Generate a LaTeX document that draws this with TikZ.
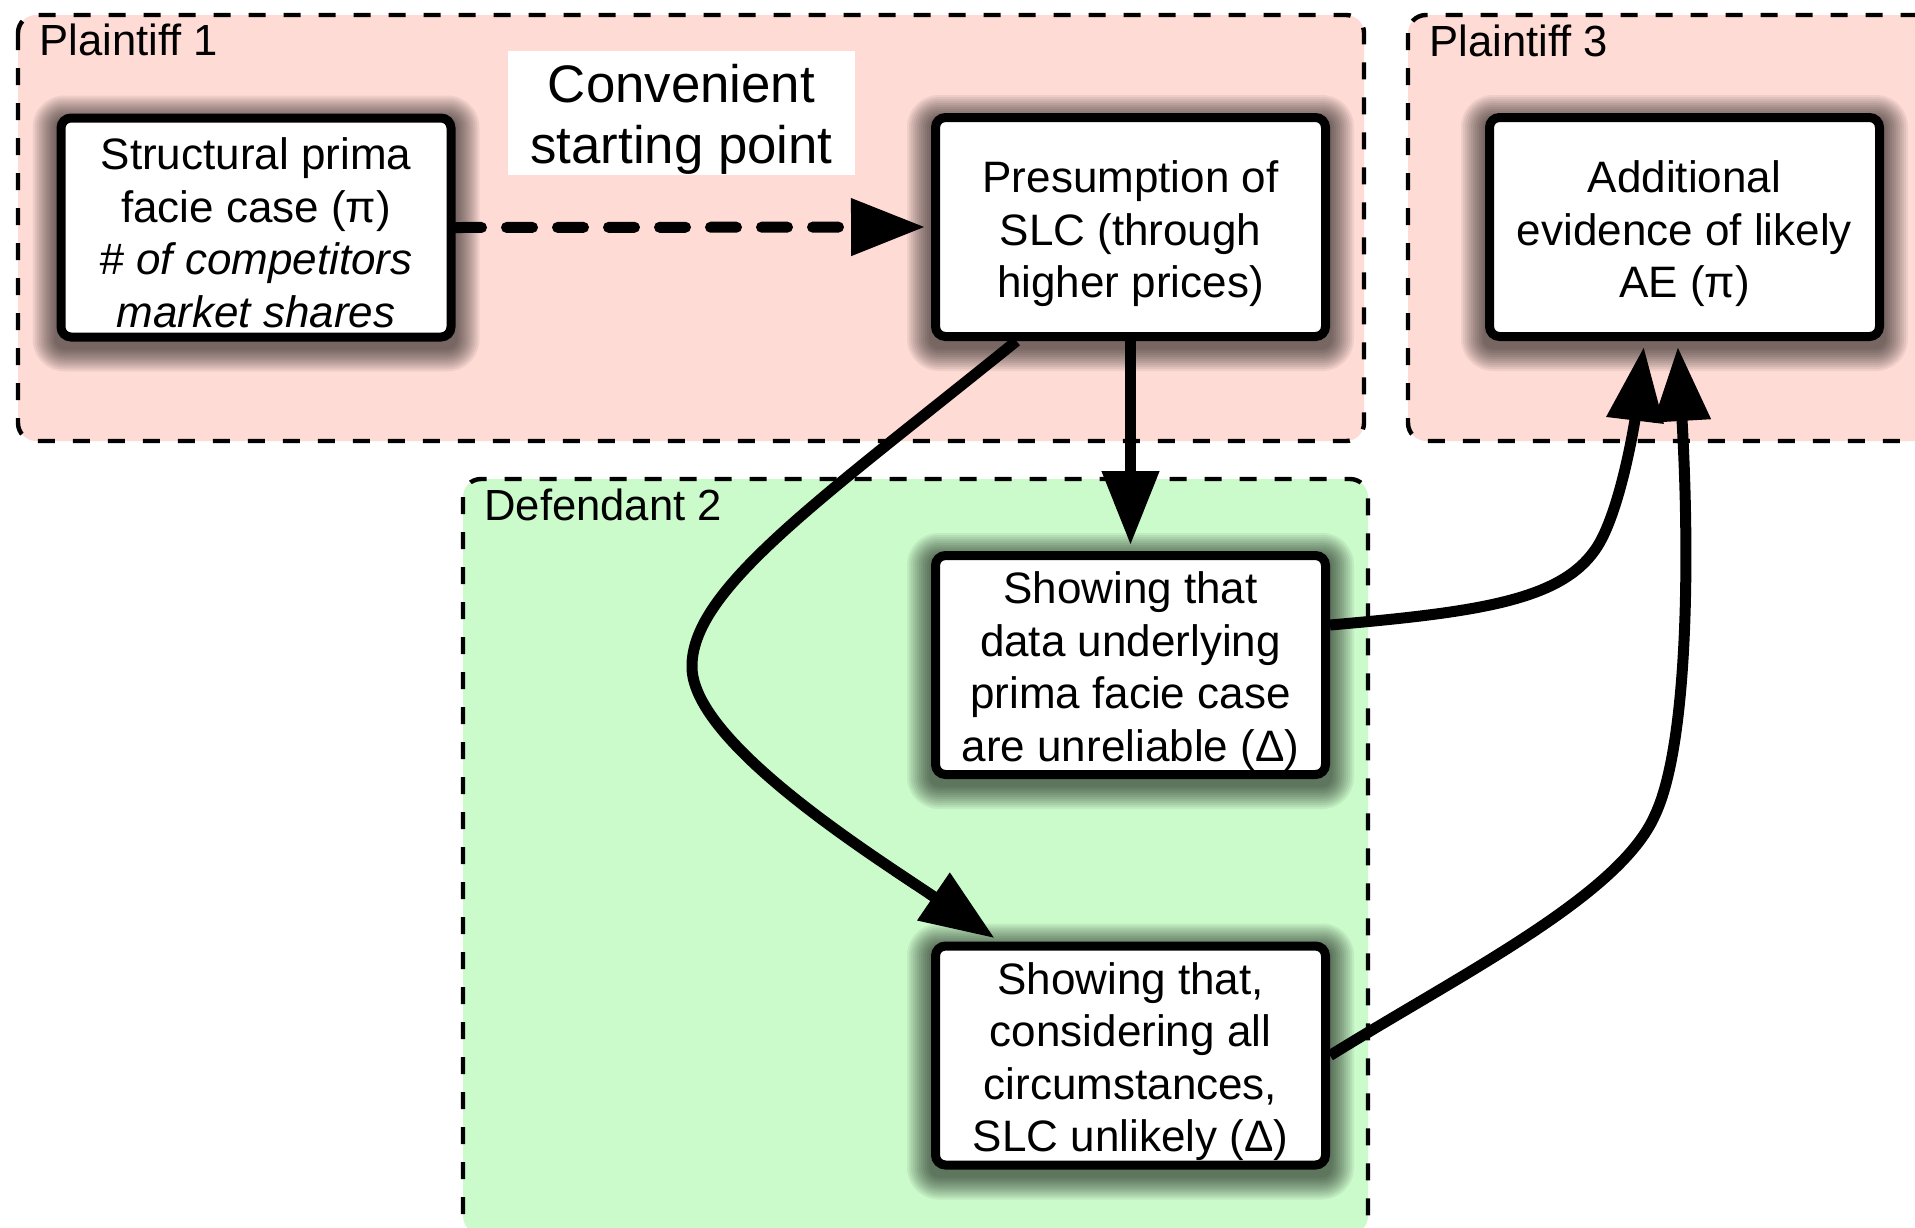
\documentclass[tikz,border=0pt]{standalone}
\usepackage{fontspec}
\setmainfont{Liberation Sans}
\usetikzlibrary{arrows.meta,calc}

\definecolor{plainpink}{RGB}{255,219,213}
\definecolor{defgreen}{RGB}{203,250,203}

\pgfdeclarelayer{back}
\pgfdeclarelayer{shade}
\pgfsetlayers{back,shade,main}

% raises the first line so that the text block sits a little lower in its box
\newcommand\firstline[1]{\rule{0pt}{#1}}

% soft drop shadow under a named card, built from stacked translucent outlines
\newcommand\cardshadow[1]{%
  \begin{pgfonlayer}{shade}
    \foreach \g [evaluate=\g as \rr using 4+\g] in {1,...,12}{
      \fill[black, fill opacity=0.058, rounded corners=\rr pt]
        ($(#1.south west)+(-2*\g,6+2*\g)$) rectangle ($(#1.north east)+(2*\g,6-2*\g)$);
    }
  \end{pgfonlayer}}

\tikzset{
  region/.style={draw=black, line width=2.2pt, dash pattern=on 8.5pt off 9pt, rounded corners=9pt},
  grouplabel/.style={anchor=base west, inner sep=0pt, font=\fontsize{21.8}{25}\selectfont},
  card/.style={draw=black, fill=white, line width=4.5pt, rounded corners=5pt,
    minimum width=195pt, minimum height=109.5pt, align=center, inner sep=0pt,
    font=\fontsize{22}{26.25}\selectfont},
  flow/.style={line width=5.5pt, -{Triangle[length=37pt,width=27.5pt]}, shorten >=3pt},
  tag/.style={fill=white, minimum width=173.5pt, minimum height=62pt, align=center,
    inner sep=0pt, font=\fontsize{26.4}{30.5}\selectfont},
}

\begin{document}
\begin{tikzpicture}[x=0.5pt,y=-0.5pt]
\useasboundingbox (0,0) rectangle (1915,1227);

% party regions
\begin{pgfonlayer}{back}
\draw[region, fill=plainpink] (18,15) rectangle (1364,441);
\draw[region, fill=plainpink] (1408,15) rectangle (1940,441);
\draw[region, fill=defgreen] (463,479) rectangle (1368,1234);
\end{pgfonlayer}

\node[grouplabel] (lp1) at (39,55) {Plaintiff 1};
\node[grouplabel] (lp3) at (1429,56) {Plaintiff 3};
\node[grouplabel] (ld2) at (484,520) {Defendant 2};

% steps
\node[card] (struct) at (256,227.5) {\firstline{21pt}Structural prima\\facie case (π)\\\textit{\# of competitors}\\\textit{market shares}};
\node[card] (pres) at (1130.5,227) {\firstline{23pt}Presumption of\\SLC (through\\higher prices)};
\node[card] (ae) at (1684.5,227) {\firstline{23pt}Additional\\evidence of likely\\AE (π)};
\node[card] (data) at (1130.5,665) {\firstline{22pt}Showing that\\data underlying\\prima facie case\\are unreliable (Δ)};
\node[card] (slc) at (1130.5,1055.5) {\firstline{22pt}Showing that,\\considering all\\circumstances,\\SLC unlikely (Δ)};

\cardshadow{struct}
\cardshadow{pres}
\cardshadow{ae}
\cardshadow{data}
\cardshadow{slc}

\node[tag] (conv) at (681.5,113) {\firstline{25.5pt}Convenient\\starting point};

% connectors
\draw[flow, dash pattern=on 13pt off 12.5pt, line cap=round] (struct.east) -- (pres.west);
\draw[flow] (pres.south) -- (data.north);
\draw[flow] ($(pres.south)+(-114,0)$) .. controls (820,500) and (690,590) .. (692,668)
  .. controls (694,745) and (880,860) .. ($(slc.north)+(-131,0)$);
\draw[flow] ($(data.east)+(0,-40)$) .. controls (1480,612) and (1560,600) .. (1595,550)
  .. controls (1620,515) and (1635,420) .. ($(ae.south)+(-40,0)$);
\draw[flow] (slc.east) .. controls (1465,972) and (1620,895) .. (1655,815)
  .. controls (1688,745) and (1690,560) .. ($(ae.south)+(-7,0)$);
\end{tikzpicture}
\end{document}
